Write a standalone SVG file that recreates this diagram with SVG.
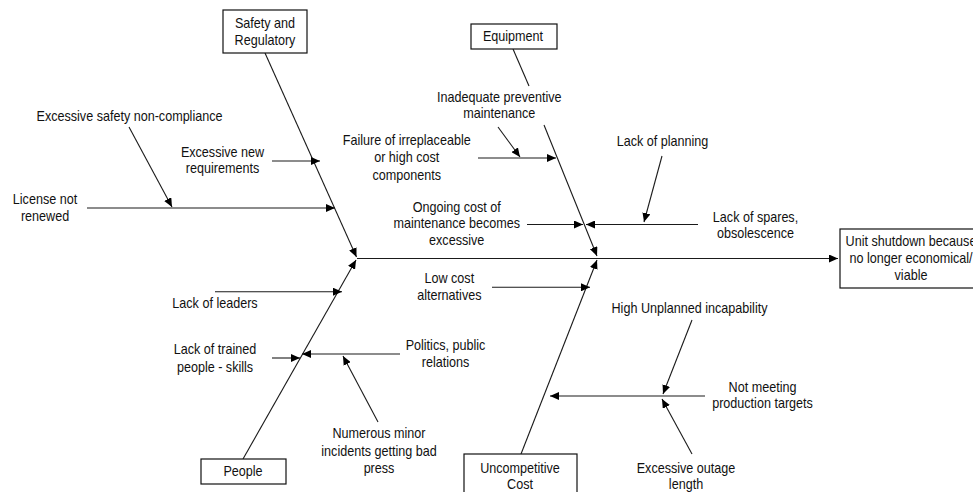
<svg xmlns="http://www.w3.org/2000/svg" width="973" height="492" viewBox="0 0 973 492">
  <style>
    .t { font-family: "Liberation Sans", Arial, sans-serif; font-size: 14px; fill: #111; text-anchor: middle; }
    .box { fill: #fff; stroke: #111; stroke-width: 1.2; }
    .ln { fill: none; stroke: #1a1a1a; stroke-width: 1.1; }
    .arr { marker-end: url(#head); }
  </style>
  <defs>
    <marker id="head" markerUnits="userSpaceOnUse" markerWidth="10" markerHeight="8" refX="9" refY="4" orient="auto">
      <path d="M0,0 L9,4 L0,8 z" fill="#000"/>
    </marker>
  </defs>
  <rect width="973" height="492" fill="#fff"/>

  <!-- fishbone spine, category bones and cause arrows -->
  <g id="connectors">
    <path class="ln arr" d="M357,258.5 H838" stroke-width="1.4"/>
    <path class="ln arr" d="M265,53 L356.5,257"/>
    <path class="ln" d="M513,49 L529,86"/>
    <path class="ln arr" d="M544,125 L597,256"/>
    <path class="ln arr" d="M243,459 L356,260"/>
    <path class="ln arr" d="M521,454 L597,260"/>

    <path class="ln arr" d="M272,161 H320"/>
    <path class="ln arr" d="M87,208 H335"/>
    <path class="ln arr" d="M129,127 L172,207"/>

    <path class="ln arr" d="M498,127 L520,157"/>
    <path class="ln arr" d="M478,158 H556"/>
    <path class="ln arr" d="M527,224.5 H583"/>
    <path class="ln arr" d="M698,224.5 H586"/>
    <path class="ln arr" d="M662,156 L644,222"/>

    <path class="ln arr" d="M215,291.7 H342"/>
    <path class="ln arr" d="M272,358 H300"/>
    <path class="ln arr" d="M400,354 H302"/>
    <path class="ln arr" d="M378,422 L343,356"/>

    <path class="ln arr" d="M492,287.3 H590"/>
    <path class="ln arr" d="M705,396 H550"/>
    <path class="ln arr" d="M692,320 L663,394"/>
    <path class="ln arr" d="M692,454 L662,399"/>
  </g>

  <!-- category boxes -->
  <g id="safety">
    <rect class="box" x="223" y="10" width="84" height="43"/>
    <text class="t" transform="translate(265,28) scale(0.9,1)"><tspan x="0">Safety and</tspan><tspan x="0" dy="17">Regulatory</tspan></text>
  </g>
  <g id="equipment">
    <rect class="box" x="471" y="24" width="86" height="25"/>
    <text class="t" transform="translate(513,41) scale(0.9,1)"><tspan x="0">Equipment</tspan></text>
  </g>
  <g id="people">
    <rect class="box" x="201" y="459" width="85" height="25"/>
    <text class="t" transform="translate(243,476) scale(0.9,1)"><tspan x="0">People</tspan></text>
  </g>
  <g id="cost">
    <rect class="box" x="464" y="454" width="113" height="50"/>
    <text class="t" transform="translate(520,472.7) scale(0.9,1)"><tspan x="0">Uncompetitive</tspan><tspan x="0" dy="16.6">Cost</tspan></text>
  </g>
  <g id="effect">
    <rect class="box" x="840" y="229" width="142" height="59"/>
    <text class="t" transform="translate(911,246) scale(0.9,1)"><tspan x="0">Unit shutdown because</tspan><tspan x="0" dy="17">no longer economical/</tspan><tspan x="0" dy="17">viable</tspan></text>
  </g>

  <!-- causes -->
  <g id="cause-noncompliance">
    <text class="t" transform="translate(129.5,120.7) scale(0.9,1)"><tspan x="0">Excessive safety non-compliance</tspan></text>
  </g>
  <g id="cause-new-requirements">
    <text class="t" transform="translate(222.5,156.7) scale(0.9,1)"><tspan x="0">Excessive new</tspan><tspan x="0" dy="16.6">requirements</tspan></text>
  </g>
  <g id="cause-license">
    <text class="t" transform="translate(45,204) scale(0.9,1)"><tspan x="0">License not</tspan><tspan x="0" dy="16.7">renewed</tspan></text>
  </g>
  <g id="cause-preventive">
    <text class="t" transform="translate(499.3,101.7) scale(0.9,1)"><tspan x="0">Inadequate preventive</tspan><tspan x="0" dy="16.6">maintenance</tspan></text>
  </g>
  <g id="cause-failure">
    <text class="t" transform="translate(406.7,145) scale(0.9,1)"><tspan x="0">Failure of irreplaceable</tspan><tspan x="0" dy="17.5">or high cost</tspan><tspan x="0" dy="17.5">components</tspan></text>
  </g>
  <g id="cause-ongoing">
    <text class="t" transform="translate(456.7,211.7) scale(0.9,1)"><tspan x="0">Ongoing cost of</tspan><tspan x="0" dy="16.6">maintenance becomes</tspan><tspan x="0" dy="16.7">excessive</tspan></text>
  </g>
  <g id="cause-planning">
    <text class="t" transform="translate(662.5,146) scale(0.9,1)"><tspan x="0">Lack of planning</tspan></text>
  </g>
  <g id="cause-spares">
    <text class="t" transform="translate(755.5,221.7) scale(0.9,1)"><tspan x="0">Lack of spares,</tspan><tspan x="0" dy="16">obsolescence</tspan></text>
  </g>
  <g id="cause-leaders">
    <text class="t" transform="translate(215,308.3) scale(0.9,1)"><tspan x="0">Lack of leaders</tspan></text>
  </g>
  <g id="cause-trained">
    <text class="t" transform="translate(215,354) scale(0.9,1)"><tspan x="0">Lack of trained</tspan><tspan x="0" dy="17.7">people - skills</tspan></text>
  </g>
  <g id="cause-low-cost">
    <text class="t" transform="translate(449.3,282.7) scale(0.9,1)"><tspan x="0">Low cost</tspan><tspan x="0" dy="17.3">alternatives</tspan></text>
  </g>
  <g id="cause-politics">
    <text class="t" transform="translate(445.5,350) scale(0.9,1)"><tspan x="0">Politics, public</tspan><tspan x="0" dy="17.3">relations</tspan></text>
  </g>
  <g id="cause-incidents">
    <text class="t" transform="translate(379,438.3) scale(0.9,1)"><tspan x="0">Numerous minor</tspan><tspan x="0" dy="17.4">incidents getting bad</tspan><tspan x="0" dy="17">press</tspan></text>
  </g>
  <g id="cause-unplanned">
    <text class="t" transform="translate(689.5,312.7) scale(0.9,1)"><tspan x="0">High Unplanned incapability</tspan></text>
  </g>
  <g id="cause-targets">
    <text class="t" transform="translate(762.5,391.7) scale(0.9,1)"><tspan x="0">Not meeting</tspan><tspan x="0" dy="16.6">production targets</tspan></text>
  </g>
  <g id="cause-outage">
    <text class="t" transform="translate(686,472.7) scale(0.9,1)"><tspan x="0">Excessive outage</tspan><tspan x="0" dy="16.6">length</tspan></text>
  </g>
</svg>
